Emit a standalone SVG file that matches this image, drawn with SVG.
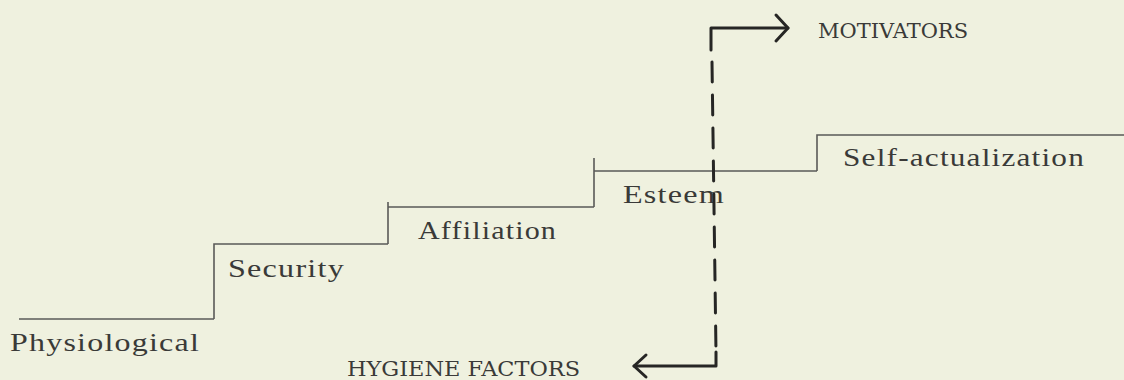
<svg xmlns="http://www.w3.org/2000/svg" width="1124" height="380" viewBox="0 0 1124 380">
  <style>
    .step { fill: none; stroke: #5a5a58; stroke-width: 1.6; }
    .label { font-family: "Liberation Serif", "DejaVu Serif", serif; font-size: 26px; fill: #3a3a38; letter-spacing: 1px; }
    .tag { font-family: "DejaVu Serif", "Liberation Serif", serif; font-size: 21px; fill: #3a3a38; }
    .flow { fill: none; stroke: #262624; stroke-width: 3; stroke-linecap: round; stroke-linejoin: round; }
    .dash { stroke-dasharray: 20 13; }
  </style>
  <rect width="1124" height="380" fill="#eff1df"/>

  <!-- staircase of needs -->
  <g id="physiological">
    <path class="step" d="M19 319 H214"/>
    <text class="label" x="10" y="351" textLength="190" lengthAdjust="spacingAndGlyphs">Physiological</text>
  </g>
  <g id="security">
    <path class="step" d="M214 319 V244 H388"/>
    <text class="label" x="228" y="277" textLength="117" lengthAdjust="spacingAndGlyphs">Security</text>
  </g>
  <g id="affiliation">
    <path class="step" d="M388 244 V202 M388 207 H594"/>
    <text class="label" x="418" y="239" textLength="139" lengthAdjust="spacingAndGlyphs">Affiliation</text>
  </g>
  <g id="esteem">
    <path class="step" d="M594 207 V158 M594 171 H817"/>
    <text class="label" x="623" y="203" textLength="102" lengthAdjust="spacingAndGlyphs">Esteem</text>
  </g>
  <g id="self-actualization">
    <path class="step" d="M817 171 V135 H1124"/>
    <text class="label" x="843" y="166" textLength="242" lengthAdjust="spacingAndGlyphs">Self-actualization</text>
  </g>

  <!-- motivator / hygiene split -->
  <g id="connectors">
    <path class="flow" d="M788 28 H711 V50"/>
    <path class="flow" d="M776 15 L788 28 L776 41"/>
    <path class="flow dash" d="M712 62 L716 352"/>
    <path class="flow" d="M716 352 V366 H634"/>
    <path class="flow" d="M646 355 L634 366 L646 377"/>
  </g>

  <g id="motivators">
    <text class="tag" x="818" y="38" textLength="150" lengthAdjust="spacingAndGlyphs">MOTIVATORS</text>
  </g>
  <g id="hygiene-factors">
    <text class="tag" x="347" y="376" textLength="233" lengthAdjust="spacingAndGlyphs">HYGIENE FACTORS</text>
  </g>
</svg>
